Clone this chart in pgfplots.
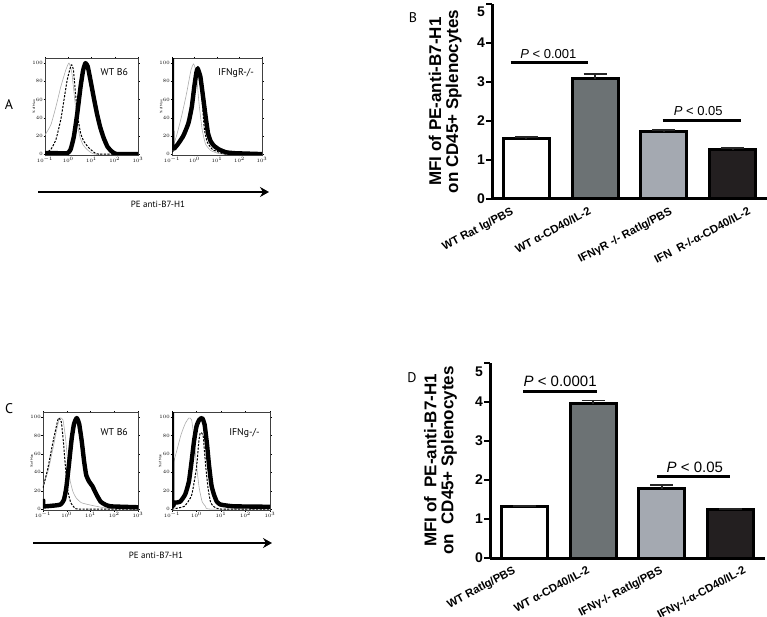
\documentclass[border=0pt]{standalone}
\usepackage{fontspec}
\setmainfont{Liberation Sans}
\newfontfamily\myr{PT Sans}
\usepackage{pgfplots}
\pgfplotsset{compat=1.18}
\usetikzlibrary{arrows.meta}
\definecolor{cdark}{RGB}{108,114,116}
\definecolor{clight}{RGB}{164,169,177}
\definecolor{cblack}{RGB}{35,31,32}

\pgfplotsset{
  histo/.style={
    scale only axis,
    xmin=-1, xmax=3, ymin=-1, ymax=105,
    axis line style={line width=0.4pt, black!75},
    xtick={-1,0,1,2,3},
    xticklabels={$10^{-1}$,$10^{0}$,$10^{1}$,$10^{2}$,$10^{3}$},
    ytick={0,20,40,60,80,100},
    tick align=outside,
    major tick length=1.5pt,
    tick style={line width=0.3pt, black},
    ticklabel style={font=\fontsize{3.2}{3.5}\selectfont, inner sep=0.6pt},
    ylabel={\myr\% of Max},
    ylabel style={font=\fontsize{3.4}{3.6}\selectfont, at={(axis description cs:-0.12,0.5)}, anchor=center},
  },
  thickc/.style={black, line width=4.4pt, line join=round, no marks, smooth, tension=0.3},
  greyc/.style={gray!65, line width=0.6pt, no marks, smooth, tension=0.3},
  dashc/.style={black, line width=1pt, dash pattern=on 2.2pt off 1.4pt, no marks, smooth, tension=0.3},
  barax/.style={
    scale only axis,
    width=275pt, height=195pt,
    xmin=-0.5, xmax=3.5, ymin=0, ymax=5,
    axis x line*=bottom, axis y line*=left,
    axis line style={line width=3pt, -},
    every outer x axis line/.append style={line width=3pt, -},
    every outer y axis line/.append style={line width=3pt, -},
    ytick={0,1,2,3,4,5},
    yticklabels={0,1,2,3,4,\raisebox{-13pt}[0pt][0pt]{5}},
    tick align=outside,
    every tick/.append style={line width=2.2pt, black},
    ytick style={line width=2.2pt, black},
    major tick length=6pt,
    xtick style={draw=none},
    yticklabel style={font=\fontsize{14}{14}\selectfont\bfseries, inner sep=1pt},
    xticklabel style={font=\fontsize{11.3}{12}\selectfont\bfseries, rotate=28, anchor=north east, inner sep=1pt},
    ybar, bar width=0.67, bar shift=0pt,
    clip=false,
    ylabel style={font=\fontsize{17}{17}\selectfont\bfseries, align=center, anchor=center},
    error bars/y dir=plus, error bars/y explicit,
    error bars/error bar style={line width=1.8pt, black!85},
    error bars/error mark options={rotate=90, line width=1.8pt, mark size=11.5pt, black!85},
  },
  barst/.style={draw=black, line width=3pt},
  sigline/.style={line width=3pt, black, sharp plot, no marks, forget plot, error bars/y dir=none},
}

\begin{document}
\begin{tikzpicture}[x=1pt,y=1pt]
\path[use as bounding box] (0,0) rectangle (767,-617);

% ---------------- Panel labels ----------------
\node[font=\myr\fontsize{14}{14}\selectfont] at (9,-105) {A};
\node[font=\myr\fontsize{14}{14}\selectfont] at (413,-18) {B};
\node[font=\myr\fontsize{14}{14}\selectfont] at (9,-409) {C};
\node[font=\myr\fontsize{14}{14}\selectfont] at (412,-378) {D};

% ---------------- Panel A left ----------------
\begin{axis}[histo, at={(45pt,-155pt)}, anchor=south west, width=93pt, height=96.5pt]
\addplot[greyc] coordinates {(-1,21) (-0.75,32) (-0.53,52) (-0.32,74) (-0.11,92) (0.03,100) (0.15,90) (0.27,62) (0.39,34) (0.5,19) (0.64,10) (0.81,5) (1.02,1) (1.23,0) (3,0)};
\addplot[dashc] coordinates {(-1,1) (-0.75,5) (-0.53,16) (-0.32,38) (-0.18,60) (-0.04,82) (0.13,98) (0.22,93) (0.31,67) (0.41,41) (0.53,23) (0.67,14) (0.88,7) (1.16,1) (1.37,0) (3,0)};
\addplot[thickc] coordinates {(-1,1) (-0.5,1) (-0.04,1) (0.10,5) (0.24,19) (0.39,45) (0.53,74) (0.64,92) (0.74,100) (0.84,96) (0.95,82) (1.09,63) (1.23,45) (1.37,30) (1.52,18) (1.69,8) (1.87,3) (2.08,0) (3,0)};
\node[font=\myr\fontsize{9.8}{10}\selectfont, anchor=north east] at (axis description cs:0.93,0.93) {WT B6};
\end{axis}

% ---------------- Panel A right ----------------
\begin{axis}[histo, at={(172pt,-155pt)}, anchor=south west, width=90pt, height=96.5pt]
\addplot[greyc] coordinates {(-1,5) (-0.80,20) (-0.57,42) (-0.35,67) (-0.16,92) (-0.04,99) (0.08,89) (0.20,56) (0.34,27) (0.49,11) (0.72,4) (1.02,1) (1.3,0) (3,0)};
\addplot[dashc] coordinates {(-1,2) (-0.73,9) (-0.42,20) (-0.19,38) (-0.04,60) (0.08,85) (0.16,97) (0.26,85) (0.35,56) (0.44,27) (0.57,13) (0.80,5) (1.10,2) (1.4,0) (3,0)};
\addplot[thickc] coordinates {(-1,108) (-0.99,10) (-0.80,9) (-0.50,20) (-0.27,34) (-0.12,52) (-0.01,74) (0.08,89) (0.14,94) (0.26,85) (0.38,63) (0.49,42) (0.60,23) (0.72,14) (0.87,9) (1.10,5) (1.40,2) (1.78,1) (3,0)};
\node[font=\myr\fontsize{9.8}{10}\selectfont, anchor=north east] at (axis description cs:0.95,0.93) {IFNgR-/-};
\end{axis}

\draw[line width=1.8pt, -{Stealth[length=9pt,width=10pt,inset=3pt]}] (38,-192) -- (269,-192);
\node[font=\myr\fontsize{9}{9}\selectfont] at (158,-204) {PE anti-B7-H1};

% ---------------- Panel C left ----------------
\begin{axis}[histo, at={(43pt,-510pt)}, anchor=south west, width=95pt, height=97.5pt]
\addplot[greyc] coordinates {(-1,26) (-0.79,41) (-0.58,66) (-0.41,88) (-0.30,99) (-0.16,97) (-0.05,77) (0.05,48) (0.15,30) (0.26,19) (0.40,12) (0.61,7) (0.89,5) (1.25,3) (1.67,1) (2.1,0) (3,0)};
\addplot[dashc] coordinates {(-1,23) (-0.79,45) (-0.58,73) (-0.41,93) (-0.35,99) (-0.23,95) (-0.13,70) (-0.04,41) (0.05,19) (0.17,7) (0.31,2) (0.52,0) (3,0)};
\addplot[thickc] coordinates {(-1,11) (-0.98,3) (-0.89,3) (-0.47,4) (-0.26,5) (-0.12,10) (-0.02,23) (0.09,48) (0.21,77) (0.31,93) (0.42,99) (0.52,93) (0.63,74) (0.73,52) (0.82,37) (0.94,30) (1.08,25) (1.19,19) (1.29,14) (1.43,8) (1.61,5) (1.85,3) (3,2)};
\node[font=\myr\fontsize{9.8}{10}\selectfont, anchor=north east] at (axis description cs:0.93,0.87) {WT B6};
\end{axis}

% ---------------- Panel C right ----------------
\begin{axis}[histo, at={(172pt,-510pt)}, anchor=south west, width=98pt, height=97.5pt]
\addplot[greyc] coordinates {(-1,45) (-0.81,63) (-0.63,81) (-0.46,93) (-0.31,99) (-0.20,97) (-0.10,77) (0,48) (0.11,23) (0.23,8) (0.37,3) (0.54,0) (3,0)};
\addplot[dashc] coordinates {(-1,0) (-0.5,3) (-0.2,15) (0,45) (0.1,75) (0.16,83) (0.27,80) (0.37,48) (0.47,23) (0.57,8) (0.69,3) (1,0) (3,0)};
\addplot[thickc] coordinates {(-1,108) (-0.99,7) (-0.89,7) (-0.67,8) (-0.46,16) (-0.31,30) (-0.2,52) (-0.1,74) (0.0,90) (0.11,97) (0.23,99) (0.33,92) (0.43,70) (0.51,48) (0.61,26) (0.71,16) (0.83,8) (0.97,5) (1.19,4) (1.54,3) (3,2.5)};
\node[font=\myr\fontsize{9.8}{10}\selectfont, anchor=north east] at (axis description cs:0.93,0.87) {IFNg-/-};
\end{axis}

\draw[line width=1.8pt, -{Stealth[length=9pt,width=10pt,inset=3pt]}] (33,-543) -- (272,-543);
\node[font=\myr\fontsize{9}{9}\selectfont] at (156,-555) {PE anti-B7-H1};

% ---------------- Panel B ----------------
\begin{axis}[barax, at={(492pt,-199pt)}, anchor=south west,
  xtick={-0.23,0.90,2.08,3.22},
  xticklabels={WT Rat Ig/PBS, WT α-CD40/IL-2, IFNγR -/- RatIg/PBS, IFN\hspace{0.6em}R-/-α-CD40/IL-2},
  ylabel={MFI of PE-anti-B7-H1\\on CD45+ Splenocytes},
  ylabel style={at={(axis description cs:-0.17,0.5)}},
]
\addplot[barst, fill=white] coordinates {(0,1.55) +- (0,0.03)};
\addplot[barst, fill=cdark] coordinates {(1,3.08) +- (0,0.12)};
\addplot[barst, fill=clight] coordinates {(2,1.73) +- (0,0.04)};
\addplot[barst, fill=cblack] coordinates {(3,1.26) +- (0,0.05)};
\addplot[sigline] coordinates {(-0.23,3.5) (0.90,3.5)};
\addplot[sigline] coordinates {(1.98,2.0) (3.12,2.0)};
\node[font=\fontsize{13}{13}\selectfont] at (axis cs:0.32,3.72) {\textit{P} < 0.001};
\node[font=\fontsize{13}{13}\selectfont] at (axis cs:2.5,2.26) {\textit{P} < 0.05};
\end{axis}

% ---------------- Panel D ----------------
\begin{axis}[barax, at={(490pt,-558pt)}, anchor=south west,
  xtick={-0.17,0.91,1.97,3.18},
  xticklabels={WT RatIg/PBS, WT α-CD40/IL-2, IFNγ-/- RatIg/PBS, IFNγ-/-α-CD40/IL-2},
  ylabel={MFI of\ \ PE-anti-B7-H1\\on\ \ CD45+ Splenocytes},
  ylabel style={at={(axis description cs:-0.18,0.5)}},
]
\addplot[barst, fill=white] coordinates {(0,1.31) +- (0,0.02)};
\addplot[barst, fill=cdark] coordinates {(1,3.95) +- (0,0.09)};
\addplot[barst, fill=clight] coordinates {(2,1.78) +- (0,0.10)};
\addplot[barst, fill=cblack] coordinates {(3,1.25) +- (0,0.0)};
\addplot[sigline] coordinates {(-0.02,4.26) (1.06,4.26)};
\addplot[sigline] coordinates {(1.93,2.08) (2.99,2.08)};
\node[font=\fontsize{15}{15}\selectfont] at (axis cs:0.52,4.53) {\textit{P} < 0.0001};
\node[font=\fontsize{15}{15}\selectfont] at (axis cs:2.48,2.32) {\textit{P} < 0.05};
\end{axis}
\end{tikzpicture}
\end{document}
